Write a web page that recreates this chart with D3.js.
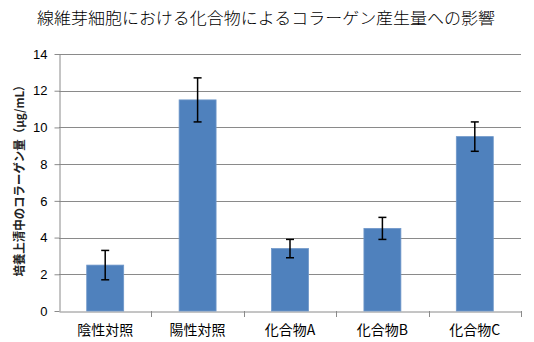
<!DOCTYPE html>
<html><head><meta charset="utf-8">
<script src="https://cdn.jsdelivr.net/npm/d3@7"></script>
<style>body{margin:0;background:#fff}svg{display:block}</style>
</head><body>
<svg id="c" width="534" height="342"></svg>
<script>
const categories = ["陰性対照","陽性対照","化合物A","化合物B","化合物C"];
const values = [2.5, 11.5, 3.4, 4.5, 9.5];
const errors = [0.8, 1.2, 0.5, 0.6, 0.8];
const yTicks = [0,2,4,6,8,10,12,14];
const title = "線維芽細胞における化合物によるコラーゲン産生量への影響";
const yLabel = "培養上清中のコラーゲン量（μg/mL）";

const svg = d3.select("#c");
const cjk = "'Noto Sans CJK JP','Noto Sans CJK SC',sans-serif";
const L = 59, R = 521, T = 54, B = 311;
const x = d3.scaleBand().domain(categories).range([L, R]).paddingInner(0.6).paddingOuter(0.3);
const y = d3.scaleLinear().domain([0, 14]).range([B, T]);

// gridlines
svg.append("g").selectAll("line").data(yTicks.filter(d=>d>0)).join("line")
  .attr("x1", L).attr("x2", R).attr("y1", d=>Math.round(y(d))+0.5).attr("y2", d=>Math.round(y(d))+0.5)
  .attr("stroke", "#8a8a8a").attr("stroke-width", 1);

// y axis
const ya = svg.append("g").attr("transform", `translate(${L+0.5},0)`)
  .call(d3.axisLeft(y).tickValues(yTicks).tickSize(5).tickPadding(7).tickSizeOuter(0));
ya.select(".domain").attr("stroke", "#8a8a8a");
ya.selectAll(".tick line").attr("stroke", "#8a8a8a");
ya.selectAll(".tick text").attr("font-family", "'Liberation Sans',Arial,sans-serif").attr("font-size", 13).attr("fill", "#000");

// x axis
const xa = svg.append("g").attr("transform", `translate(0,${B+0.5})`)
  .call(d3.axisBottom(x).tickSize(0).tickPadding(14));
xa.select(".domain").attr("stroke", "#8a8a8a");
xa.selectAll(".tick text").attr("font-family", cjk).attr("font-size", 14).attr("fill", "#000");
// category boundary ticks
const bounds = d3.range(categories.length + 1).map(i => L + i * x.step());
svg.append("g").selectAll("line").data(bounds.slice(1)).join("line")
  .attr("x1", d=>Math.round(d)+0.5).attr("x2", d=>Math.round(d)+0.5)
  .attr("y1", B).attr("y2", B+6).attr("stroke", "#8a8a8a");

// bars
svg.append("g").selectAll("rect").data(values).join("rect")
  .attr("x", (d,i)=>x(categories[i])).attr("width", x.bandwidth())
  .attr("y", d=>y(d)).attr("height", d=>B - y(d))
  .attr("fill", "#4f81bd").attr("stroke", "#6f97c9").attr("stroke-width", 0.8);

// error bars
const eb = svg.append("g").attr("stroke", "#000").attr("stroke-width", 1.5);
values.forEach((v,i)=>{
  const cx = x(categories[i]) + x.bandwidth()/2;
  eb.append("line").attr("x1", cx).attr("x2", cx).attr("y1", y(v+errors[i])).attr("y2", y(v-errors[i]));
  eb.append("line").attr("x1", cx-4).attr("x2", cx+4).attr("y1", y(v+errors[i])).attr("y2", y(v+errors[i]));
  eb.append("line").attr("x1", cx-4).attr("x2", cx+4).attr("y1", y(v-errors[i])).attr("y2", y(v-errors[i]));
});

// title
svg.append("text").attr("x", 266).attr("y", 24).attr("text-anchor", "middle")
  .attr("font-family", cjk).attr("font-size", 16).attr("font-weight", 300).attr("fill", "#000")
  .attr("textLength", 458).attr("lengthAdjust", "spacingAndGlyphs").text(title);

// y label
svg.append("text").attr("transform", "translate(24,178) rotate(-90)").attr("text-anchor", "middle")
  .attr("font-family", cjk).attr("font-size", 12).attr("font-weight", "bold").attr("fill", "#222")
  .attr("textLength", 197).attr("lengthAdjust", "spacingAndGlyphs").text(yLabel);
</script>
</body></html>
